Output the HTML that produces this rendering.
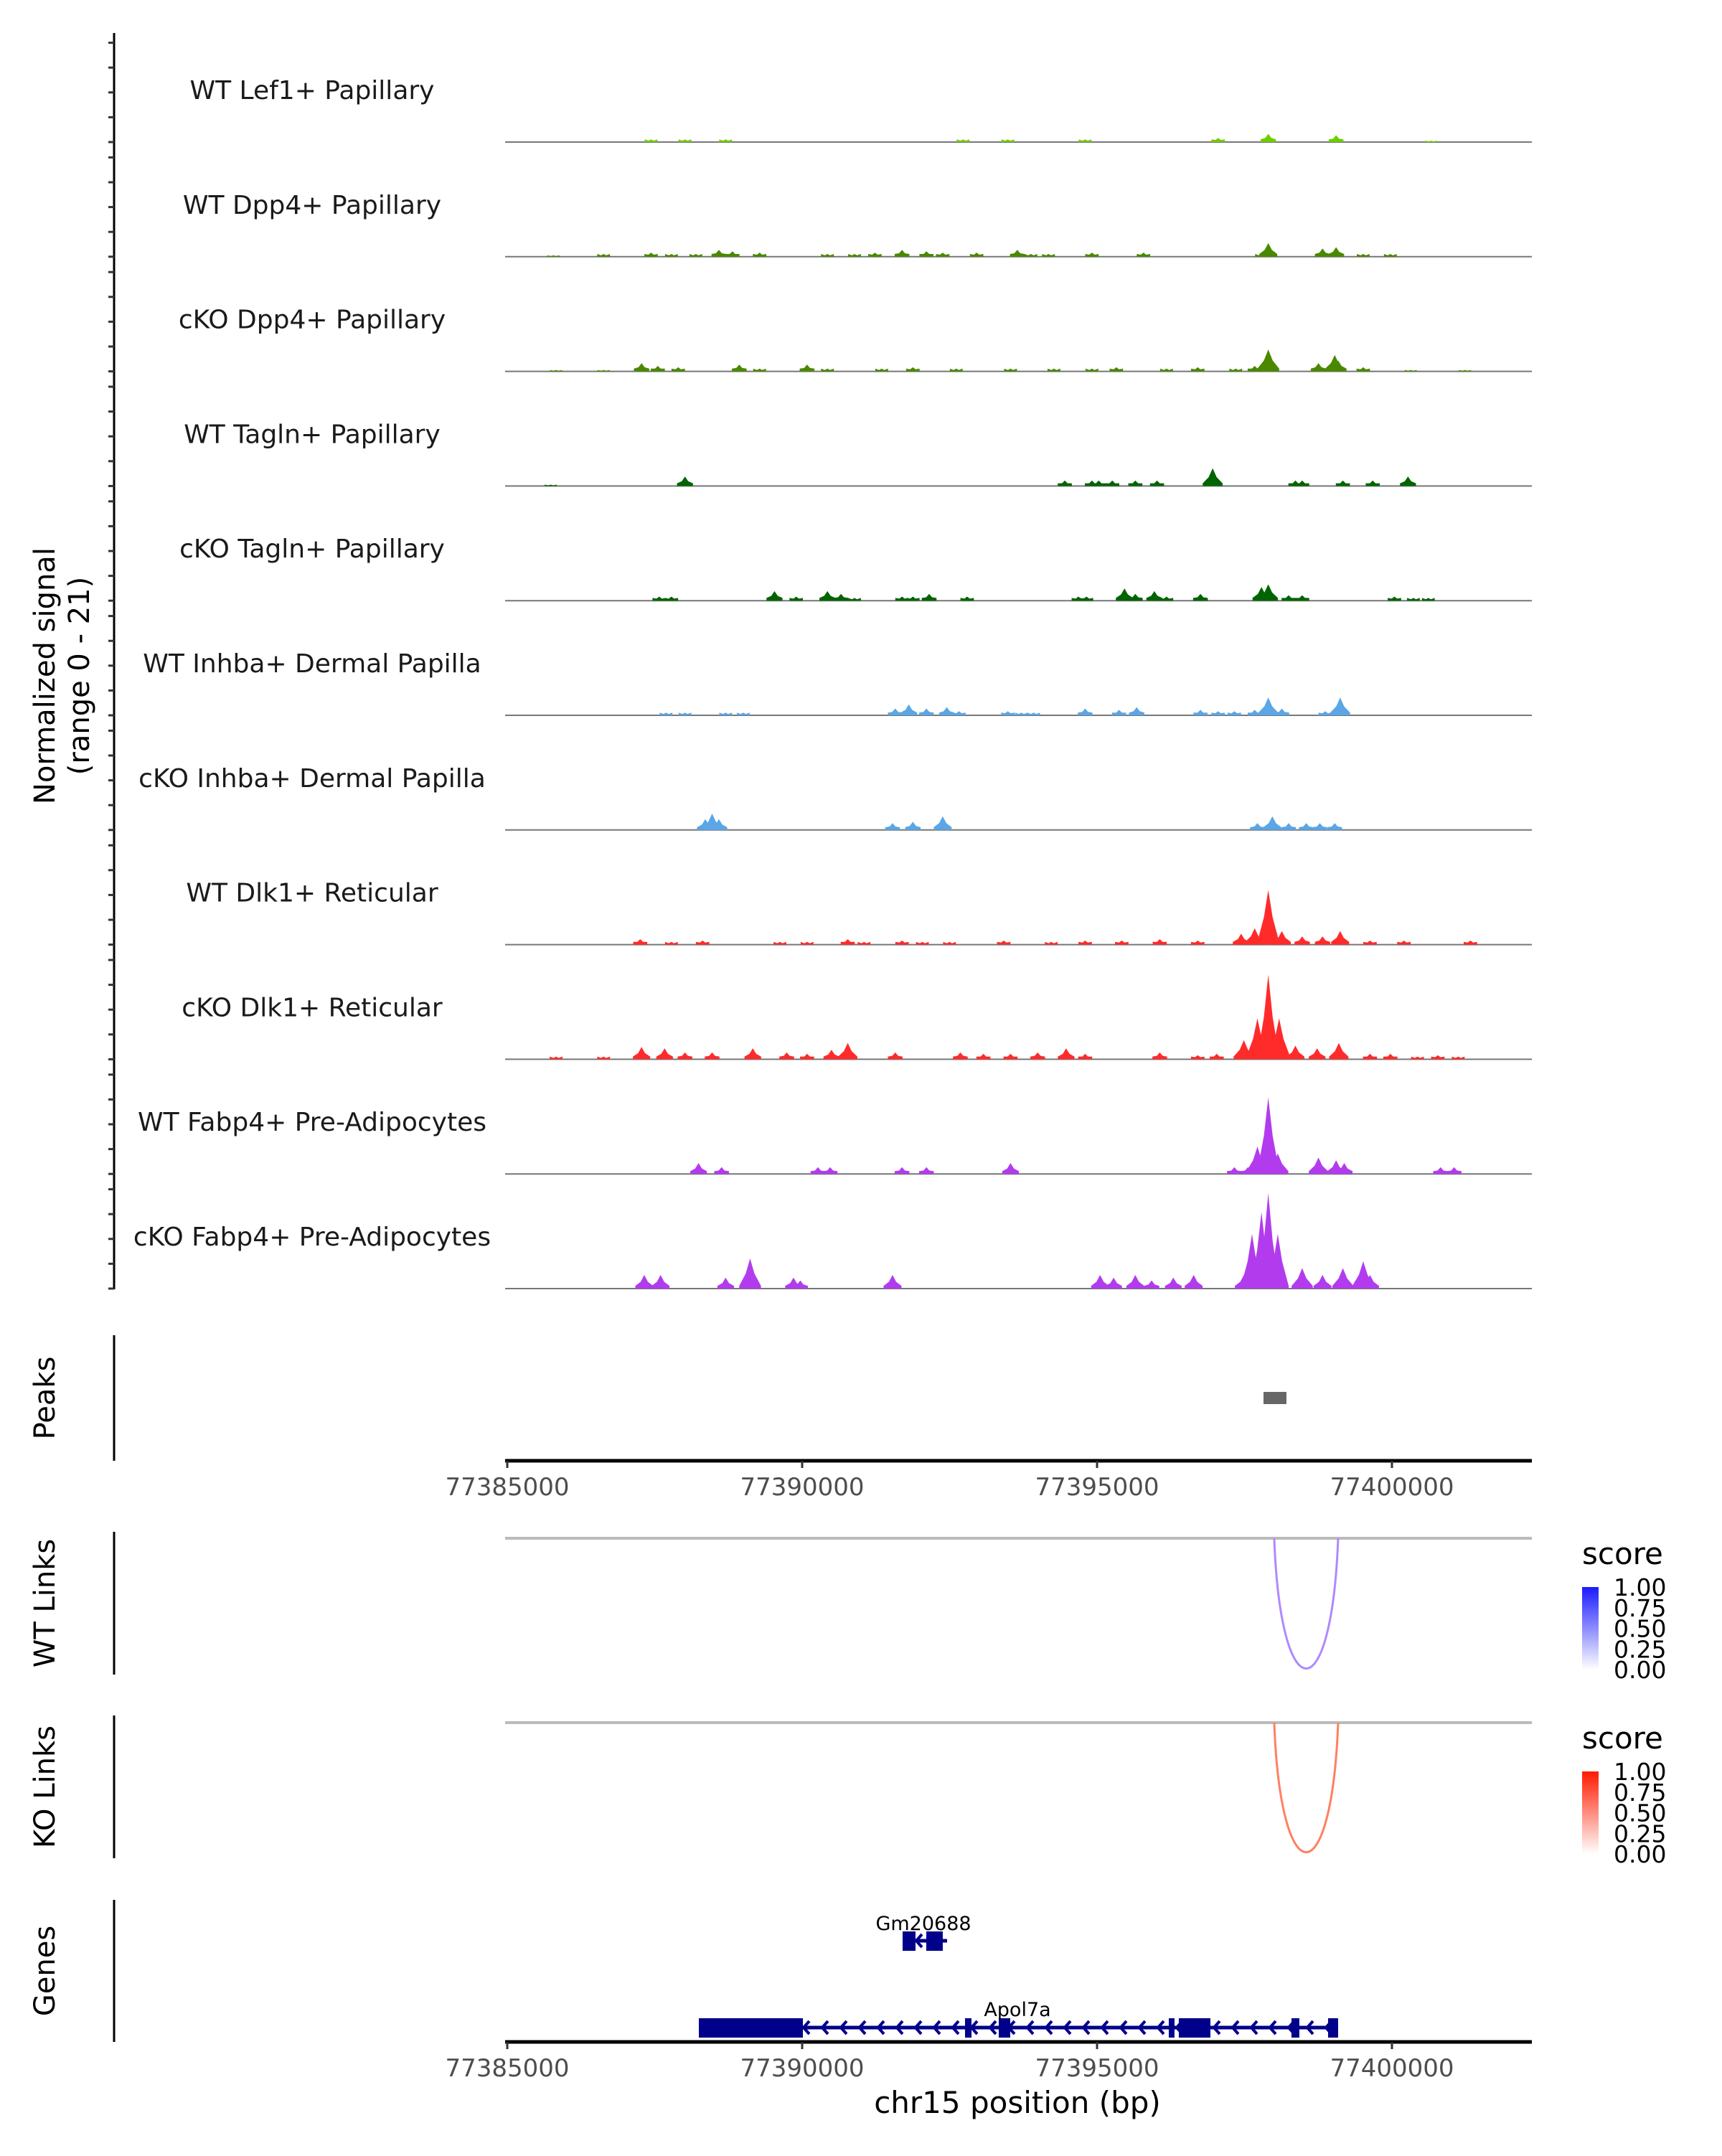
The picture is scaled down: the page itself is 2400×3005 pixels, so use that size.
<!DOCTYPE html>
<html><head><meta charset="utf-8"><style>
html,body{margin:0;padding:0;background:#fff}
svg text{font-family:"DejaVu Sans","Liberation Sans",sans-serif}
</style></head><body>
<svg id="chart" xmlns="http://www.w3.org/2000/svg" width="2400" height="3000" viewBox="0 0 2400 3000">
<rect width="2400" height="3000" fill="#fff"/>
<g id="tracks"></g>
<g id="rest"></g>
</svg>
<script>
// ---- data ----
const trackNames = ["WT Lef1+ Papillary","WT Dpp4+ Papillary","cKO Dpp4+ Papillary","WT Tagln+ Papillary","cKO Tagln+ Papillary","WT Inhba+ Dermal Papilla","cKO Inhba+ Dermal Papilla","WT Dlk1+ Reticular","cKO Dlk1+ Reticular","WT Fabp4+ Pre-Adipocytes","cKO Fabp4+ Pre-Adipocytes"];
const trackColors = ["#6fcc00","#4a8800","#4a8800","#006400","#006400","#5aa6e6","#5aa6e6","#ff2b2b","#ff2b2b","#b23ced","#b23ced"];
// peak positions (kb offset from 77385000) and signal heights (0-21)
const pos0 = [2.438,3.013,3.703,7.728,8.487,9.798,12.052,12.903,14.053,15.663];
const val0 = [0.5,0.5,0.5,0.5,0.5,0.5,0.75,1.5,1.25,0.25];
const pos1 = [0.782,1.633,2.438,2.783,3.197,3.588,3.818,4.278,5.428,5.888,6.233,6.693,7.107,7.383,7.958,8.648,8.878,9.177,9.913,10.787,12.788,12.903,13.823,14.053,14.513,14.973];
const val1 = [0.25,0.5,0.75,0.5,0.5,1.25,1,0.75,0.5,0.5,0.75,1.25,1,0.75,0.75,1.25,0.5,0.5,0.75,0.75,0.5,2.5,1.5,1.75,0.5,0.5];
const pos2 = [0.828,1.633,2.277,2.553,2.898,3.933,4.278,5.083,5.428,6.348,6.877,7.613,8.533,9.269,9.913,10.327,11.178,11.707,12.351,12.673,12.903,13.754,14.03,14.088,14.513,15.318,16.238];
const val2 = [0.25,0.25,1.5,1,0.75,1.25,0.5,1.25,0.5,0.5,0.75,0.5,0.5,0.5,0.5,0.75,0.5,0.75,0.5,1,4,1.5,3,2,0.75,0.25,0.25];
const pos3 = [0.736,3.013,9.453,9.913,10.028,10.258,10.649,11.017,11.96,13.363,13.478,14.168,14.674,15.272];
const val3 = [0.25,1.75,1,1,1,1,1,1,3.25,1,1,1,1,1.75];
const pos4 = [2.576,2.783,4.531,4.899,5.428,5.658,5.888,6.693,6.877,7.153,7.797,9.683,9.821,10.465,10.649,10.971,11.178,11.753,12.788,12.903,13.248,13.478,15.042,15.364,15.617];
const val4 = [0.75,0.75,1.75,0.75,1.75,1.25,0.5,0.75,0.75,1.25,0.75,0.75,0.75,2.25,1.25,1.75,0.75,1.25,2.5,3,1,1,0.75,0.5,0.5];
const pos5 = [2.691,3.013,3.703,4.002,6.578,6.808,7.107,7.452,7.659,8.487,8.717,8.924,9.798,10.373,10.672,11.753,12.052,12.328,12.673,12.903,13.133,13.869,14.122];
const val5 = [0.5,0.5,0.5,0.5,1.25,2,1.25,1.5,0.75,0.75,0.5,0.5,1.25,1,1.5,1,0.75,0.75,1,3.25,1.25,0.75,3.25];
const pos6 = [3.358,3.473,3.588,6.532,6.877,7.383,12.719,12.972,13.248,13.547,13.777,14.03];
const val6 = [2,3,2,1.25,1.5,2.5,1.25,2.5,1.25,1.25,1.25,1.25];
const pos7 = [2.254,2.783,3.312,4.623,5.083,5.773,6.049,6.693,7.038,7.498,8.418,9.223,9.798,10.419,11.063,11.707,12.443,12.673,12.903,13.133,13.478,13.823,14.122,14.628,15.203,16.33];
const val7 = [1,0.5,0.75,0.5,0.5,1,0.5,0.75,0.5,0.5,0.75,0.5,0.75,0.75,1,0.75,2,3,10,2.5,1.5,1.5,2.5,0.75,0.75,0.75];
const pos8 = [0.828,1.633,2.277,2.668,3.013,3.473,4.163,4.738,5.083,5.497,5.773,6.578,7.682,8.073,8.533,8.993,9.476,9.798,11.063,11.707,12.029,12.489,12.719,12.903,13.087,13.363,13.731,14.099,14.628,14.973,15.433,15.778,16.123];
const val8 = [0.5,0.5,2.25,2,1.25,1.25,2,1.25,1,1.75,3,1.25,1.25,1,1,1.25,2,1,1.25,0.75,1,3.5,7.5,15.5,7.5,2.5,2,3,1,1,0.5,0.75,0.5];
const pos9 = [3.243,3.634,5.267,5.474,6.693,7.107,8.533,12.328,12.558,12.719,12.903,13.064,13.754,14.053,14.191,15.824,16.054];
const val9 = [2,1.25,1.25,1.25,1.25,1.25,2,1.25,1.25,5,14,3.75,3,2.5,2,1.25,1.25];
const pos10 = [2.323,2.599,3.703,4.117,4.853,4.968,6.532,10.051,10.281,10.649,10.925,11.293,11.638,12.489,12.627,12.788,12.903,13.064,13.478,13.823,14.168,14.513,14.628];
const val10 = [2.5,2.5,2,5.5,2,1.5,2.5,2.5,2,2.5,1.5,2,2.5,2.5,10,14,17.5,10,3.75,2.5,3.75,5,2.5];
const positions = [pos0,pos1,pos2,pos3,pos4,pos5,pos6,pos7,pos8,pos9,pos10];
const values = [val0,val1,val2,val3,val4,val5,val6,val7,val8,val9,val10];
const xTicks = [77385000,77390000,77395000,77400000];
const xTickLabels = ["77385000","77390000","77395000","77400000"];
const peakStart = [77397822]; const peakEnd = [77398211];
const wtLinkStart = [77398004]; const wtLinkEnd = [77399087]; const wtLinkScore=[0.45];
const koLinkStart = [77398004]; const koLinkEnd = [77399087]; const koLinkScore=[0.55];
const legendTicks = ["1.00","0.75","0.50","0.25","0.00"];
const apolExonStart=[77388248,77392761,77393333,77396216,77396386,77398296,77398917];
const apolExonEnd  =[77390012,77392871,77393528,77396313,77396922,77398430,77399087];
const gmExonStart=[77391703,77392104]; const gmExonEnd=[77391922,77392384];

// ---- scales ----
const NS="http://www.w3.org/2000/svg";
const X0=707, PX_PER_BP=411/5000;
function xs(bp){return X0+(bp-77385000)*PX_PER_BP;}
const YMAX=21, TRACK_H=159.8, BASE0=198;
function ys(v,b){return b - v/YMAX*TRACK_H;}
function el(tag,attrs,parent,text){const e=document.createElementNS(NS,tag);for(const k in attrs)e.setAttribute(k,attrs[k]);if(text!==undefined)e.textContent=text;parent.appendChild(e);return e;}
const T=document.getElementById('tracks'), R=document.getElementById('rest');
const PL=704, PR=2135;

// left axis
let ax=el('line',{x1:159,y1:46,x2:159,y2:1797,stroke:'#000','stroke-width':3},T);


for(let i=0;i<trackNames.length;i++){
  const b=BASE0+i*TRACK_H;
  for(let k=0;k<5;k++){
    const t=el('line',{x1:151,x2:159,y1:b-k*34.6,y2:b-k*34.6,stroke:'#333','stroke-width':3},T);
    
    
  }
}
let yt=el('text',{transform:'translate(76,942) rotate(-90)','text-anchor':'middle','font-size':40,fill:'#000'},T,'Normalized signal');


let yt2=el('text',{transform:'translate(124,942) rotate(-90)','text-anchor':'middle','font-size':40,fill:'#000'},T,'(range 0 - 21)');



// tracks
for(let i=0;i<trackNames.length;i++){
  const b=BASE0+i*TRACK_H;
  const g=el('g',{},T);
  
  
  const lab=el('text',{x:435,y:b-60,'text-anchor':'middle','font-size':36,fill:'#1a1a1a'},g,trackNames[i]);
  
  
  const bl=el('line',{x1:PL,x2:PR,y1:b,y2:b,stroke:'#777','stroke-width':2},g);
  
  
  const P=positions[i], V=values[i];
  for(let j=0;j<P.length;j++){
    const cx=xs(77385000+P[j]*1000), top=ys(V[j],b), w=8+Math.min(V[j],4)*1.8;
    const mid=ys(V[j]*0.5,b);
    const d=`M${cx-w},${b} L${cx-w},${ys(Math.min(V[j],0.5),b)} L${cx-w*0.4},${mid} L${cx},${top} L${cx+w*0.4},${mid} L${cx+w},${ys(Math.min(V[j],0.5),b)} L${cx+w},${b} Z`;
    const p=el('path',{d:d,fill:trackColors[i]},g);
    
    
  }
}

// Peaks panel
function panelAxis(y1,y2,label,name){
  const l=el('line',{x1:159,x2:159,y1:y1,y2:y2,stroke:'#000','stroke-width':3},R);
  
  
  const t=el('text',{transform:`translate(76,${(y1+y2)/2}) rotate(-90)`,'text-anchor':'middle','font-size':40,fill:'#000'},R,label);
  
  
}
panelAxis(1861,2036,'Peaks','peaks');
for(let i=0;i<peakStart.length;i++){
  const r=el('rect',{x:xs(peakStart[i]),y:1940,width:xs(peakEnd[i])-xs(peakStart[i]),height:17,fill:'#666'},R);
  
  
}
function xAxis(y,name){
  const l=el('line',{x1:PL,x2:PR,y1:y,y2:y,stroke:'#000','stroke-width':5},R);
  
  
  for(let i=0;i<xTicks.length;i++){
    const x=xs(xTicks[i]);
    const t=el('line',{x1:x,x2:x,y1:y,y2:y+10,stroke:'#333','stroke-width':3},R);
    
    
    const tl=el('text',{x:x,y:y+48,'text-anchor':'middle','font-size':34,fill:'#4d4d4d'},R,xTickLabels[i]);
    
    
  }
}
xAxis(2036,'peaks-x-axis');

// Links
function links(y1,y2,base,starts,ends,scores,hue,name,lt){
  panelAxis(y1,y2,name==='wt-links'?'WT Links':'KO Links',name);
  const gl=el('line',{x1:PL,x2:PR,y1:base,y2:base,stroke:'#bbb','stroke-width':4},R);
  
  
  for(let i=0;i<starts.length;i++){
    const a=xs(starts[i]), c=xs(ends[i]), bottom=y2-8;
    const d=`M${a},${base} C${a+ (c-a)*0.1},${base+(bottom-base)*1.33} ${c-(c-a)*0.1},${base+(bottom-base)*1.33} ${c},${base}`;
    const p=el('path',{d:d,fill:'none',stroke:hue==='blue'?'#b088ff':'#ff8060','stroke-width':3},R);
    
    
  }
  const sc=el('text',{x:2205,y:lt,'font-size':42,fill:'#000'},R,'score');
  
  
  const gid=name+'-grad';
  const defs=el('defs',{},R);
  const lg=el('linearGradient',{id:gid,x1:0,y1:1,x2:0,y2:0},defs);
  el('stop',{offset:0,'stop-color':'#fff'},lg);
  el('stop',{offset:1,'stop-color':hue==='blue'?'#1a1aff':'#ff1a00'},lg);
  const by=lt+32, bh=115;
  const bar=el('rect',{x:2205,y:by,width:23,height:bh,fill:`url(#${gid})`},R);
  
  
  for(let k=0;k<legendTicks.length;k++){
    const yy=by+k*bh/4;
    const tt=el('text',{x:2249,y:yy+12,'font-size':33,fill:'#000'},R,legendTicks[k]);
    
    
  }
}
links(2135,2334,2144,wtLinkStart,wtLinkEnd,wtLinkScore,'blue','wt-links',2180);
links(2391,2590,2401,koLinkStart,koLinkEnd,koLinkScore,'red','ko-links',2437);

// Genes
panelAxis(2648,2846,'Genes','genes');
function gene(start,end,exS,exE,y,label,ly,lx,name){
  const g=el('g',{},R);
  
  
  el('line',{x1:xs(start),x2:xs(end),y1:y,y2:y,stroke:'#00008b','stroke-width':5},g);
  for(let x=xs(end)-14;x>xs(start)+8;x-=26){
    el('path',{d:`M${x+5},${y-9} L${x-3},${y} L${x+5},${y+9}`,fill:'none',stroke:'#00008b','stroke-width':4},g);
  }
  for(let i=0;i<exS.length;i++){
    el('rect',{x:xs(exS[i]),y:y-13,width:Math.max(4,xs(exE[i])-xs(exS[i])),height:27,fill:'#00008b'},g);
  }
  const t=el('text',{x:lx,y:ly,'text-anchor':'middle','font-size':27,fill:'#000'},g,label);
  
  
}
gene(77391703,77392457,gmExonStart,gmExonEnd,2705,'Gm20688',2690,1287,'gene-gm20688');
gene(77388248,77399087,apolExonStart,apolExonEnd,2826,'Apol7a',2810,1418,'gene-apol7a');
xAxis(2846,'genes-x-axis');
const xt=el('text',{x:1418,y:2945,'text-anchor':'middle','font-size':42,fill:'#000'},R,'chr15 position (bp)');


</script>
</body></html>
